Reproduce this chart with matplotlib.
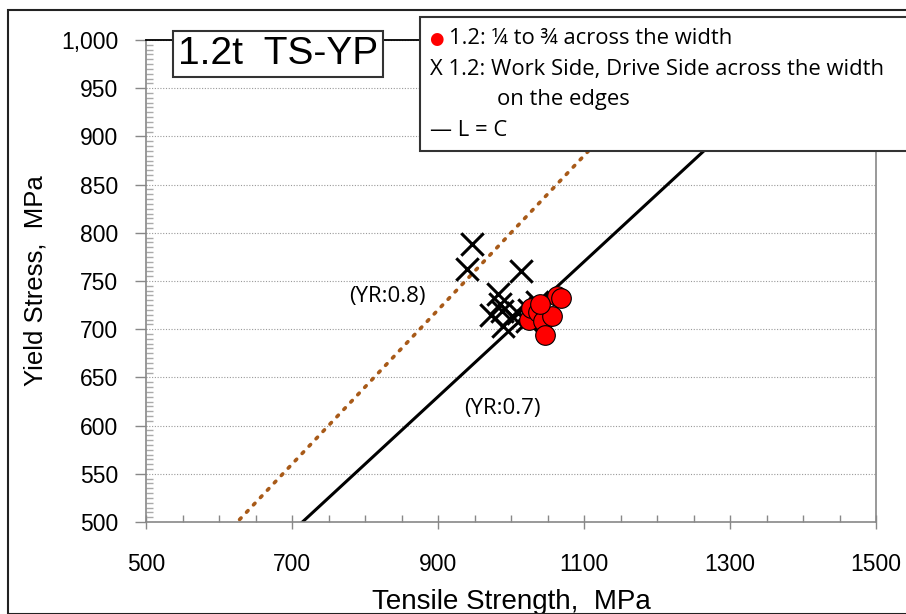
import matplotlib
matplotlib.use("Agg")
import matplotlib.pyplot as plt
from matplotlib.patches import Rectangle
from matplotlib.ticker import MultipleLocator, FixedLocator, FuncFormatter
import numpy as np

# ---- data ----
ts_mid = [1024, 1028, 1037, 1044, 1047, 1056, 1063, 1068, 1040]
yp_mid = [710, 722, 718, 708, 694, 714, 734, 732, 726]

ts_edge = [946, 940, 1014, 982, 972, 988, 989, 1001, 1010, 1022, 1024, 1035, 1040, 985]
yp_edge = [788, 762, 760, 737, 715, 719, 703, 714, 717, 708, 720, 728, 722, 726]

yr_lines = [0.7, 0.8]
x_range = [500, 1500]
y_range = [500, 1000]
x_ticks = [500, 700, 900, 1100, 1300, 1500]

fig = plt.figure(figsize=(9.06, 6.14), dpi=100)
ax = fig.add_axes([146/906, 1-522/614, (876-146)/906, (522-40)/614])

W, H = 906, 614
# outer frame
fig.patches.append(Rectangle((8/W, 0), 1.0, 1-10/H, transform=fig.transFigure,
                             fill=False, edgecolor='#222222', lw=1.5, zorder=0))

xs = np.array(x_range, dtype=float)
ax.plot(xs, yr_lines[0]*xs, color='black', lw=2.2, zorder=2)
ax.plot(xs, yr_lines[1]*xs, color='#A85A18', lw=2.6, ls=(0, (0.6, 2.2)),
        dash_capstyle='round', zorder=2)

ax.scatter(ts_edge, yp_edge, marker='x', s=260, color='black', linewidths=2.2, zorder=3)
ax.scatter(ts_mid, yp_mid, marker='o', s=200, facecolor='#FF0000', edgecolor='black',
           linewidths=0.8, zorder=4)

ax.set_xlim(*x_range)
ax.set_ylim(*y_range)

ax.xaxis.set_major_locator(FixedLocator(x_ticks))
ax.xaxis.set_minor_locator(MultipleLocator(50))
ax.yaxis.set_major_locator(MultipleLocator(50))
ax.yaxis.set_minor_locator(MultipleLocator(5))
ax.yaxis.set_major_formatter(FuncFormatter(lambda v, p: f"{int(v):,}"))

ax.tick_params(axis='x', which='major', direction='inout', length=10, width=1, color='#888888',
               labelsize=16.5, pad=17)
ax.tick_params(axis='x', which='minor', direction='in', length=5, width=1, color='#888888')
ax.tick_params(axis='y', which='major', direction='out', length=8, width=1, color='#888888',
               labelsize=16.5, pad=12)
ax.tick_params(axis='y', which='minor', direction='in', length=5, width=1, color='#AAAAAA')
for lab in ax.get_xticklabels() + ax.get_yticklabels():
    lab.set_fontfamily('Liberation Sans')

ax.yaxis.grid(True, which='major', ls=(0, (1, 1.5)), color='#999999', lw=0.8)
ax.set_axisbelow(True)

for s in ['left', 'bottom', 'right']:
    ax.spines[s].set_color('#888888')
    ax.spines[s].set_linewidth(1.2)
ax.spines['top'].set_color('black')
ax.spines['top'].set_linewidth(1.3)

ax.set_xlabel('Tensile Strength,  MPa', fontsize=20, family='Liberation Sans', labelpad=10)
ax.set_ylabel('Yield Stress,  MPa', fontsize=18.5, family='Liberation Sans', labelpad=10)

ax.text(830, 734, '(YR:0.8)', fontsize=16, family='Open Sans', ha='center', va='center')
ax.text(988, 618, '(YR:0.7)', fontsize=16, family='Open Sans', ha='center', va='center')

# title box
fig.text(278/W, 1-54/H, '1.2t  TS-YP', fontsize=28, family='Liberation Sans',
         ha='center', va='center', zorder=10,
         bbox=dict(boxstyle='square,pad=0.12', facecolor='white', edgecolor='#333333', lw=1.5))

# legend box
fig.patches.append(Rectangle((420/W, 1-151/H), 0.6, (151-17)/H, transform=fig.transFigure,
                             facecolor='white', edgecolor='#333333', lw=1.5, zorder=9))
fs = 15.8
fig.text(429/W, 1-39/H, '●', color='#FF0000', fontsize=12, family='DejaVu Sans',
         va='center', ha='left', zorder=11)
fig.text(449/W, 1-39/H, '1.2: ¼ to ¾ across the width', fontsize=fs, family='Open Sans',
         va='center', ha='left', zorder=11)
fig.text(430/W, 1-69/H, 'X 1.2: Work Side, Drive Side across the width', fontsize=fs,
         family='Open Sans', va='center', ha='left', zorder=11)
fig.text(497/W, 1-100/H, 'on the edges', fontsize=fs, family='Open Sans',
         va='center', ha='left', zorder=11)
fig.text(430/W, 1-131/H, '— L = C', fontsize=fs, family='Open Sans',
         va='center', ha='left', zorder=11)

fig.savefig('out.png', dpi=100)
